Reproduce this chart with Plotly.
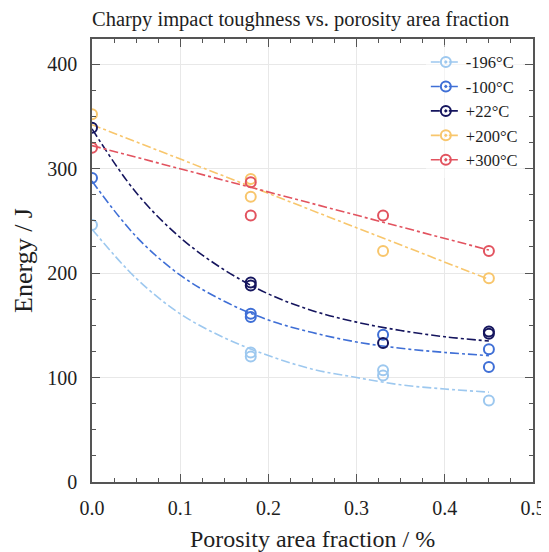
import plotly.graph_objects as go

# ---- data ----
x_m196 = [0.0, 0.18, 0.18, 0.33, 0.33, 0.45]
y_m196 = [246, 124, 120, 107, 102, 78]

x_m100 = [0.0, 0.18, 0.18, 0.33, 0.45, 0.45]
y_m100 = [291, 161, 158, 141, 127, 110]

x_p22 = [0.0, 0.18, 0.18, 0.33, 0.45, 0.45]
y_p22 = [339, 191, 188, 133, 144, 142]

x_p200 = [0.0, 0.18, 0.18, 0.33, 0.45]
y_p200 = [352, 290, 273, 221, 195]

x_p300 = [0.0, 0.18, 0.18, 0.33, 0.45]
y_p300 = [320, 287, 255, 255, 221]

# fit curves
fit_x = [0.0, 0.05, 0.1, 0.15, 0.2, 0.25, 0.3, 0.35, 0.4, 0.45]
fit_m196 = [242, 195, 161, 138, 121, 108, 100, 93, 89, 86]
fit_m100 = [288, 235, 198, 173, 155, 143, 134, 128, 124, 121]
fit_p22 = [338, 277, 234, 203, 180, 164, 153, 145, 139, 135]
lin_x = [0.0, 0.45]
fit_p200 = [342, 194]
fit_p300 = [322, 222]

labels = ["-196°C", "-100°C", "+22°C", "+200°C", "+300°C"]
colors = ["#9dc8ef", "#3f6fd6", "#15155e", "#f8c66c", "#e2535f"]

xs = [x_m196, x_m100, x_p22, x_p200, x_p300]
ys = [y_m196, y_m100, y_p22, y_p200, y_p300]
fit_xs = [fit_x, fit_x, fit_x, lin_x, lin_x]
fits = [fit_m196, fit_m100, fit_p22, fit_p200, fit_p300]

x_ticks = [0.0, 0.1, 0.2, 0.3, 0.4, 0.5]
x_tick_text = ["0.0", "0.1", "0.2", "0.3", "0.4", "0.5"]
y_ticks = [0, 100, 200, 300, 400]

FONT = "Liberation Serif"
TXT = "#1e1e1e"

fig = go.Figure()
for i in range(5):
    fig.add_trace(go.Scatter(
        x=fit_xs[i], y=fits[i], mode="lines",
        line=dict(color=colors[i], width=1.6, dash="dashdot",
                  shape="spline" if i < 3 else "linear"),
        showlegend=False, hoverinfo="skip"))
for i in range(5):
    fig.add_trace(go.Scatter(
        x=xs[i], y=ys[i], mode="markers",
        marker=dict(symbol="circle-open", size=10, color=colors[i],
                    line=dict(width=2, color=colors[i])),
        showlegend=False, name=labels[i]))
# legend entries
for i in range(5):
    fig.add_trace(go.Scatter(
        x=[None], y=[None], mode="lines+markers", name=labels[i],
        line=dict(color=colors[i], width=1.6, dash="dash"),
        marker=dict(symbol="circle-open-dot", size=10, color=colors[i],
                    line=dict(width=2, color=colors[i]))))

axis_common = dict(
    showline=True, linecolor="#555555", linewidth=1.5, mirror="allticks",
    ticks="inside", ticklen=8, tickwidth=1.3, tickcolor="#555555",
    showgrid=True, gridcolor="#e8e8e8", gridwidth=1, zeroline=False,
    automargin=False,
    tickfont=dict(family=FONT, size=20, color=TXT),
)

# the page adds an 8px body margin, so the figure is 8px smaller each way
fig.update_layout(
    width=541, height=544,
    margin=dict(l=84, r=16, t=31, b=70),
    paper_bgcolor="white", plot_bgcolor="white",
    title=dict(text="Charpy impact toughness vs. porosity area fraction",
               x=0.0, xanchor="left", xref="paper", y=0.981, yanchor="middle",
               font=dict(family=FONT, size=20.5, color=TXT)),
    xaxis=dict(range=[0, 0.5], tickvals=x_ticks, ticktext=x_tick_text,
               ticklabelstandoff=7,
               minor=dict(dtick=0.025, ticks="inside", ticklen=4,
                          tickcolor="#555555", showgrid=False),
               title=dict(text="Porosity area fraction / %", standoff=12,
                          font=dict(family=FONT, size=24, color=TXT)),
               **axis_common),
    yaxis=dict(range=[0, 424], tickvals=y_ticks, ticklabelstandoff=9,
               minor=dict(dtick=25, ticks="inside", ticklen=4,
                          tickcolor="#555555", showgrid=False),
               title=dict(text="Energy / J", standoff=7,
                          font=dict(family=FONT, size=26, color=TXT)),
               **axis_common),
    legend=dict(x=0.757, y=0.987, xanchor="left", yanchor="top",
                bgcolor="rgba(255,255,255,0.5)", borderwidth=0,
                font=dict(family=FONT, size=16.5, color=TXT),
                itemwidth=30, tracegroupgap=0),
    showlegend=True,
)

fig.write_html("out.html")
